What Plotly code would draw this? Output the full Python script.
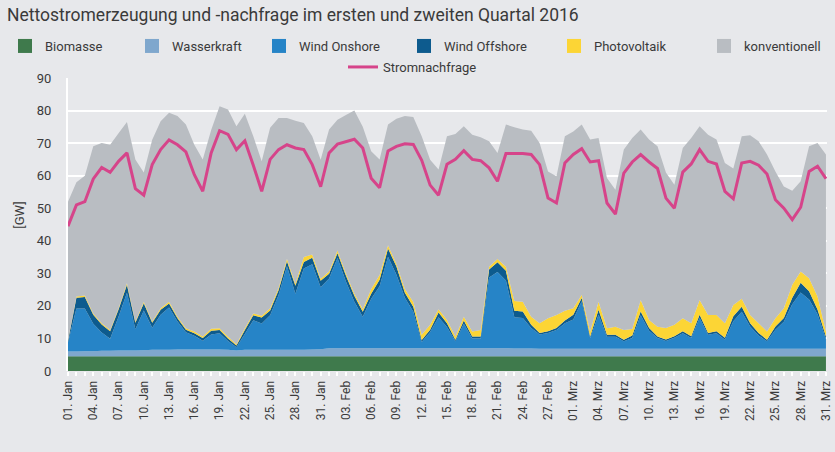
import plotly.graph_objects as go
import pandas as pd

days = pd.date_range("2016-01-01", "2016-03-31", freq="D")

tick_labels = ["01. Jan", "04. Jan", "07. Jan", "10. Jan", "13. Jan", "16. Jan", "19. Jan",
               "22. Jan", "25. Jan", "28. Jan", "31. Jan", "03. Feb", "06. Feb", "09. Feb",
               "12. Feb", "15. Feb", "18. Feb", "21. Feb", "24. Feb", "27. Feb", "01. Mrz",
               "04. Mrz", "07. Mrz", "10. Mrz", "13. Mrz", "16. Mrz", "19. Mrz", "22. Mrz",
               "25. Mrz", "28. Mrz", "31. Mrz"]

biomasse = [4.5, 4.5, 4.5, 4.5, 4.5, 4.5, 4.5, 4.5, 4.5, 4.5,
            4.5, 4.5, 4.5, 4.5, 4.5, 4.5, 4.5, 4.5, 4.5, 4.5,
            4.5, 4.5, 4.5, 4.5, 4.5, 4.5, 4.5, 4.5, 4.5, 4.5,
            4.5, 4.5, 4.5, 4.5, 4.5, 4.5, 4.5, 4.5, 4.5, 4.5,
            4.5, 4.5, 4.5, 4.5, 4.5, 4.5, 4.5, 4.5, 4.5, 4.5,
            4.5, 4.5, 4.5, 4.5, 4.5, 4.5, 4.5, 4.5, 4.5, 4.5,
            4.5, 4.5, 4.5, 4.5, 4.5, 4.5, 4.5, 4.5, 4.5, 4.5,
            4.5, 4.5, 4.5, 4.5, 4.5, 4.5, 4.5, 4.5, 4.5, 4.5,
            4.5, 4.5, 4.5, 4.5, 4.5, 4.5, 4.5, 4.5, 4.5, 4.5,
            4.5]

wasserkraft = [1.5, 1.5, 1.6, 1.6, 1.7, 1.7, 1.8, 1.8, 1.8, 1.9,
               2.0, 2.0, 2.0, 2.1, 2.1, 2.1, 2.1, 2.1, 2.1, 2.0,
               1.8, 2.0, 2.0, 2.0, 2.0, 2.0, 2.0, 2.0, 2.0, 2.1,
               2.2, 2.5, 2.5, 2.5, 2.5, 2.5, 2.5, 2.5, 2.5, 2.5,
               2.5, 2.5, 2.5, 2.5, 2.5, 2.5, 2.5, 2.5, 2.5, 2.5,
               2.5, 2.5, 2.5, 2.4, 2.4, 2.4, 2.3, 2.3, 2.3, 2.3,
               2.3, 2.3, 2.3, 2.3, 2.3, 2.3, 2.3, 2.3, 2.3, 2.3,
               2.3, 2.3, 2.3, 2.3, 2.3, 2.3, 2.3, 2.3, 2.3, 2.3,
               2.3, 2.3, 2.3, 2.3, 2.3, 2.3, 2.3, 2.3, 2.3, 2.3,
               2.3]

wind_onshore = [2.8, 13.2, 13.1, 8.4, 5.6, 3.7, 10.4, 17.7, 6.5, 12.2,
                6.8, 10.8, 13.0, 8.6, 5.3, 4.2, 2.7, 4.6, 5.0, 2.7,
                1.0, 4.9, 9.1, 8.1, 10.6, 16.8, 25.7, 17.2, 25.0, 26.2,
                19.0, 21.4, 27.7, 20.5, 14.3, 9.7, 15.2, 19.0, 28.1, 22.6,
                15.5, 11.2, 1.9, 5.0, 9.5, 6.5, 2.1, 7.5, 3.0, 3.0,
                21.7, 23.4, 20.8, 9.6, 9.4, 6.3, 4.4, 4.9, 5.8, 7.9,
                9.0, 14.6, 3.3, 10.5, 3.7, 3.7, 2.3, 3.3, 10.3, 5.6,
                3.3, 2.4, 3.4, 4.8, 3.3, 9.5, 4.3, 4.8, 2.8, 8.5,
                11.4, 6.9, 4.1, 2.3, 5.9, 8.3, 13.7, 17.3, 15.2, 10.6,
                3.0]

wind_offshore = [0.5, 3.3, 3.5, 2.8, 2.5, 2.3, 2.2, 2.5, 2.0, 2.2,
                 1.5, 1.5, 1.2, 1.0, 0.8, 0.8, 0.8, 1.2, 1.0, 0.8,
                 0.5, 1.2, 1.5, 1.8, 1.5, 1.5, 1.5, 2.5, 2.0, 2.0,
                 2.0, 1.5, 1.5, 1.8, 1.8, 1.5, 1.5, 2.0, 2.5, 2.5,
                 1.5, 1.5, 0.6, 0.7, 1.5, 1.2, 0.5, 1.0, 0.6, 0.6,
                 2.5, 3.0, 3.0, 2.0, 2.0, 1.0, 0.5, 0.5, 0.6, 0.8,
                 1.5, 1.0, 0.5, 1.5, 0.6, 0.6, 0.5, 0.8, 1.2, 0.8,
                 0.5, 0.5, 0.5, 0.6, 0.6, 1.0, 0.6, 0.6, 0.6, 1.5,
                 1.5, 1.0, 0.8, 0.5, 1.0, 1.2, 2.0, 3.0, 2.5, 1.5,
                 0.8]

photovoltaik = [0.2, 0.4, 0.5, 0.4, 0.4, 0.4, 0.4, 0.5, 0.4, 0.5,
                0.4, 0.5, 0.6, 0.5, 0.4, 0.5, 0.5, 0.6, 0.5, 0.5,
                0.4, 0.5, 0.6, 0.6, 0.7, 0.7, 0.8, 0.6, 1.5, 1.0,
                0.6, 0.7, 0.8, 0.7, 0.7, 0.8, 1.5, 1.5, 1.0, 0.8,
                1.2, 1.5, 1.6, 1.5, 1.0, 1.0, 1.0, 1.2, 1.5, 2.0,
                0.8, 1.0, 1.2, 3.0, 3.0, 2.5, 3.0, 4.0, 4.0, 3.0,
                2.0, 1.0, 1.5, 2.5, 2.0, 2.5, 3.0, 2.0, 3.5, 2.5,
                3.0, 3.5, 3.5, 4.0, 4.0, 4.5, 5.5, 5.0, 4.5, 3.5,
                2.5, 2.5, 3.0, 2.5, 2.5, 3.0, 4.0, 3.5, 4.0, 4.0,
                1.5]

konventionell = [42.5, 35.1, 36.8, 51.3, 55.3, 56.9, 53.7, 49.5, 49.8, 39.7,
                 55.8, 57.4, 58.0, 61.6, 62.6, 57.4, 54.4, 61.0, 68.2, 69.8,
                 67.0, 65.9, 54.4, 47.4, 55.4, 52.2, 43.2, 50.1, 41.2, 36.3,
                 36.6, 43.6, 40.2, 48.6, 56.2, 56.0, 42.3, 35.5, 37.1, 44.6,
                 53.1, 56.8, 61.0, 50.7, 42.9, 56.4, 62.2, 58.5, 60.5, 59.2,
                 38.6, 32.6, 43.7, 53.4, 52.9, 57.1, 55.3, 45.1, 42.6, 53.6,
                 54.3, 52.3, 59.0, 50.3, 46.2, 42.1, 55.4, 58.7, 52.4, 55.4,
                 55.4, 47.8, 43.0, 52.3, 56.9, 53.4, 55.4, 53.9, 49.2, 41.9,
                 49.9, 55.2, 55.9, 54.4, 45.1, 37.4, 28.9, 27.7, 40.5, 47.1,
                 54.4]

stromnachfrage = [44.5, 51.0, 52.0, 59.0, 62.5, 61.0, 64.4, 67.0, 56.0, 54.0,
                  63.4, 68.0, 71.0, 69.5, 67.3, 60.3, 55.2, 67.0, 73.8, 72.7,
                  68.0, 70.7, 63.2, 55.2, 65.0, 68.0, 69.5, 68.5, 68.0, 63.4,
                  56.6, 67.0, 69.7, 70.4, 71.2, 68.5, 59.2, 56.3, 67.6, 69.0,
                  69.8, 69.6, 64.7, 57.1, 54.0, 63.5, 65.0, 67.7, 65.0, 64.6,
                  62.4, 58.3, 66.8, 66.8, 66.8, 66.5, 63.4, 53.1, 51.6, 63.9,
                  66.5, 68.3, 64.2, 64.6, 51.6, 48.2, 60.8, 64.2, 66.5, 64.2,
                  62.2, 53.1, 50.0, 61.1, 63.6, 68.0, 64.4, 63.6, 55.2, 52.9,
                  63.9, 64.4, 63.2, 60.5, 52.6, 50.0, 46.5, 50.3, 61.3, 62.9,
                  59.1]

series = [
    ("Biomasse", biomasse, "#3f7a4c", "legend"),
    ("Wasserkraft", wasserkraft, "#7fa7cd", "legend"),
    ("Wind Onshore", wind_onshore, "#2684c7", "legend"),
    ("Wind Offshore", wind_offshore, "#0d5b8e", "legend3"),
    ("Photovoltaik", photovoltaik, "#fcd535", "legend3"),
    ("konventionell", konventionell, "#b9bdc2", "legend3"),
]

BG = "#e7e8eb"
FONT = "Roboto"
TXT = "#3a3a3a"

fig = go.Figure()

for name, vals, col, lg in series:
    fig.add_trace(go.Scatter(
        x=days, y=vals, name=name, stackgroup="one", mode="none",
        fillcolor=col, line=dict(width=0), showlegend=False,
        hovertemplate=name + ": %{y} GW<extra></extra>",
    ))

# legend entries (square swatches)
for name, vals, col, lg in series:
    fig.add_trace(go.Scatter(
        x=[None], y=[None], name=name, mode="markers",
        marker=dict(symbol="square", size=14, color=col),
        legend=lg, showlegend=True, hoverinfo="skip",
    ))

fig.add_trace(go.Scatter(
    x=days, y=stromnachfrage, name="Stromnachfrage", mode="lines",
    line=dict(color="#d6448a", width=3), legend="legend2",
))

common_leg = dict(orientation="h", xref="container", yref="container",
                  xanchor="left", yanchor="middle", itemwidth=30,
                  traceorder="normal", bgcolor="rgba(0,0,0,0)",
                  font=dict(size=13, color=TXT), tracegroupgap=0,
                  entrywidthmode="pixels")

fig.update_layout(
    width=835, height=452,
    paper_bgcolor=BG, plot_bgcolor=BG,
    margin=dict(l=68, r=8, t=78, b=81, autoexpand=False),
    font=dict(family=FONT, size=13, color=TXT),
    title=dict(text="Nettostromerzeugung und -nachfrage im ersten und zweiten Quartal 2016",
               x=7 / 835, xref="container", xanchor="left",
               y=1 - 15 / 452, yref="container", yanchor="middle",
               font=dict(family=FONT, size=17.5, color=TXT)),
    legend=dict(common_leg, x=5 / 835, y=1 - 46 / 452, entrywidth=82),
    legend3=dict(common_leg, x=404 / 835, y=1 - 46 / 452, entrywidth=105),
    legend2=dict(orientation="h", xref="container", yref="container",
                 x=343 / 835, xanchor="left", y=1 - 67 / 452, yanchor="middle",
                 bgcolor="rgba(0,0,0,0)", font=dict(size=13, color=TXT)),
    showlegend=True,
)

fig.update_xaxes(
    type="date", range=["2016-01-01", "2016-03-31 03:00"],
    tickmode="array", tickvals=list(days[::3]), ticktext=tick_labels,
    tickangle=-90, tickfont=dict(size=12, color=TXT),
    ticklabeloverflow="allow",
    ticks="outside", ticklen=4, tickcolor="white", tickwidth=2,
    minor=dict(ticks="outside", ticklen=4, tickcolor="white", tickwidth=2,
               tickmode="array", tickvals=list(days), showgrid=False),
    showgrid=False, zeroline=False, showline=False,
)

fig.update_yaxes(
    range=[0, 90], dtick=10, tick0=0,
    showgrid=True, gridcolor="white", gridwidth=1.5,
    zeroline=False, showline=True, linecolor="white", linewidth=2,
    tickfont=dict(size=13, color=TXT), ticklabelstandoff=12,
)

fig.add_annotation(
    text="[GW]", textangle=-90, xref="paper", yref="paper",
    x=-48 / 759, y=0.53, xanchor="center", yanchor="middle",
    showarrow=False, font=dict(size=13, color=TXT),
)

fig.write_html(
    "out.html",
    config={"displayModeBar": False},
    post_script="document.body.style.margin='0';document.body.style.background='" + BG + "';",
)
